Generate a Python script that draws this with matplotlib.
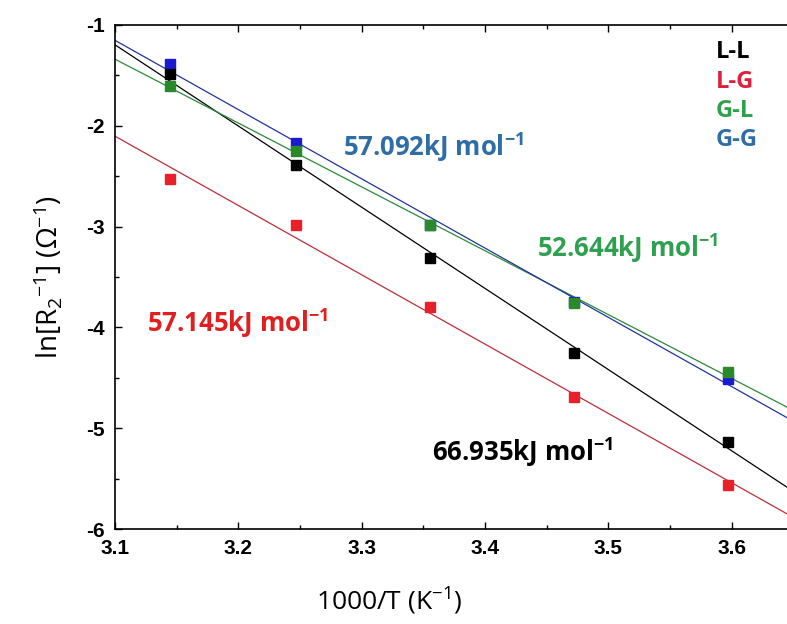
import numpy as np
import matplotlib
matplotlib.use("Agg")
import matplotlib.pyplot as plt
from matplotlib.ticker import MultipleLocator

# 1000/T for T = 318, 308, 298, 288, 278 K
inv_T = [3.1447, 3.2468, 3.3557, 3.4722, 3.5971]

series = ["L-L", "L-G", "G-L", "G-G"]
ln_LL = [-1.49, -2.39, -3.31, -4.25, -5.14]
ln_LG = [-2.53, -2.98, -3.80, -4.69, -5.56]
ln_GL = [-1.605, -2.25, -2.98, -3.755, -4.44]
ln_GG = [-1.39, -2.17, -2.98, -3.75, -4.51]

# activation energies (kJ/mol) from the Arrhenius slopes
Ea_LL = 66.935
Ea_LG = 57.145
Ea_GL = 52.644
Ea_GG = 57.092

R_GAS = 8.314e-3  # kJ / (mol K)

plt.rcParams['mathtext.fontset'] = 'custom'
plt.rcParams['mathtext.rm'] = 'Open Sans'
plt.rcParams['mathtext.bf'] = 'Open Sans:bold'
plt.rcParams['mathtext.it'] = 'Open Sans'

fig = plt.figure(figsize=(7.87, 6.24), dpi=100)
ax = fig.add_axes([0.146, 0.152, 0.854, 0.808])

x_lo, x_hi = 3.1, 3.645
xx = np.array([x_lo, x_hi])

styles = {
    "L-L": (ln_LL, Ea_LL, "#000000", "#000000"),
    "L-G": (ln_LG, Ea_LG, "#e8202a", "#b8303a"),
    "G-L": (ln_GL, Ea_GL, "#2a8a2a", "#2a8a3a"),
    "G-G": (ln_GG, Ea_GG, "#1a1ad0", "#23339a"),
}

x_arr = np.array(inv_T)
for key in series:
    yv, Ea, pcol, lcol = styles[key]
    y_arr = np.array(yv)
    slope = -Ea / (R_GAS * 1000.0)
    icpt = y_arr.mean() - slope * x_arr.mean()
    ax.plot(xx, icpt + slope * xx, color=lcol, lw=0.9, zorder=2)

# square markers, stacked red < blue < green < black
for key in ["L-G", "G-G", "G-L", "L-L"]:
    yv, Ea, pcol, lcol = styles[key]
    ax.plot(inv_T, yv, linestyle='none', marker='s', ms=6.8,
            color=pcol, mec=pcol, zorder=3)

ax.set_xlim(x_lo, x_hi)
ax.set_ylim(-6, -1)
ax.xaxis.set_major_locator(MultipleLocator(0.1))
ax.xaxis.set_minor_locator(MultipleLocator(0.05))
ax.yaxis.set_major_locator(MultipleLocator(1))
ax.yaxis.set_minor_locator(MultipleLocator(0.5))
ax.tick_params(which='both', direction='in', top=True, right=False, width=1.0)
ax.tick_params(which='major', length=5, pad=7)
ax.tick_params(which='minor', length=3)
ax.spines['right'].set_visible(False)
for s in ['left', 'bottom', 'top']:
    ax.spines[s].set_linewidth(1.2)

xt = ax.get_xticks()
yt = ax.get_yticks()
ax.set_xticks(xt)
ax.set_yticks(yt)
ax.set_xticklabels([f"{t:.1f}" for t in xt],
                   fontfamily='Liberation Sans', fontweight='bold', fontsize=15)
ax.set_yticklabels([f"{int(round(t))}" for t in yt],
                   fontfamily='Liberation Sans', fontweight='bold', fontsize=15)
ax.set_xlim(x_lo, x_hi)
ax.set_ylim(-6, -1)

ax.set_xlabel("1000/T (K$^{-1}$)", fontfamily='Open Sans', fontsize=19)
ax.xaxis.set_label_coords(0.408, -0.112)
ax.set_ylabel("ln[R$_{2}$$^{-1}$] ($\\Omega^{-1}$)", fontfamily='Open Sans',
              fontsize=20, labelpad=16)

# series labels in the upper right
leg_cols = ["#000000", "#e0203a", "#2ea04a", "#2f6da6"]
for i, (name, c) in enumerate(zip(series, leg_cols)):
    fig.text(716 / 787, 1 - (52 + i * 29.5) / 624, name, color=c, fontsize=17,
             fontweight='bold', fontfamily='Open Sans', va='center', ha='left')

# activation energy annotations
ann = [
    (Ea_GG, "#2f6da6", 343, 147),
    (Ea_GL, "#2ea050", 537, 248),
    (Ea_LG, "#e02020", 147, 323),
    (Ea_LL, "#000000", 432, 452),
]
for Ea, c, px, py in ann:
    fig.text(px / 787, 1 - py / 624, f"{Ea:.3f}kJ mol$^{{\\mathbf{{-1}}}}$",
             color=c, fontsize=18.5, fontweight='bold', fontfamily='Open Sans',
             va='center', ha='left')

fig.savefig("out.png", dpi=100)
